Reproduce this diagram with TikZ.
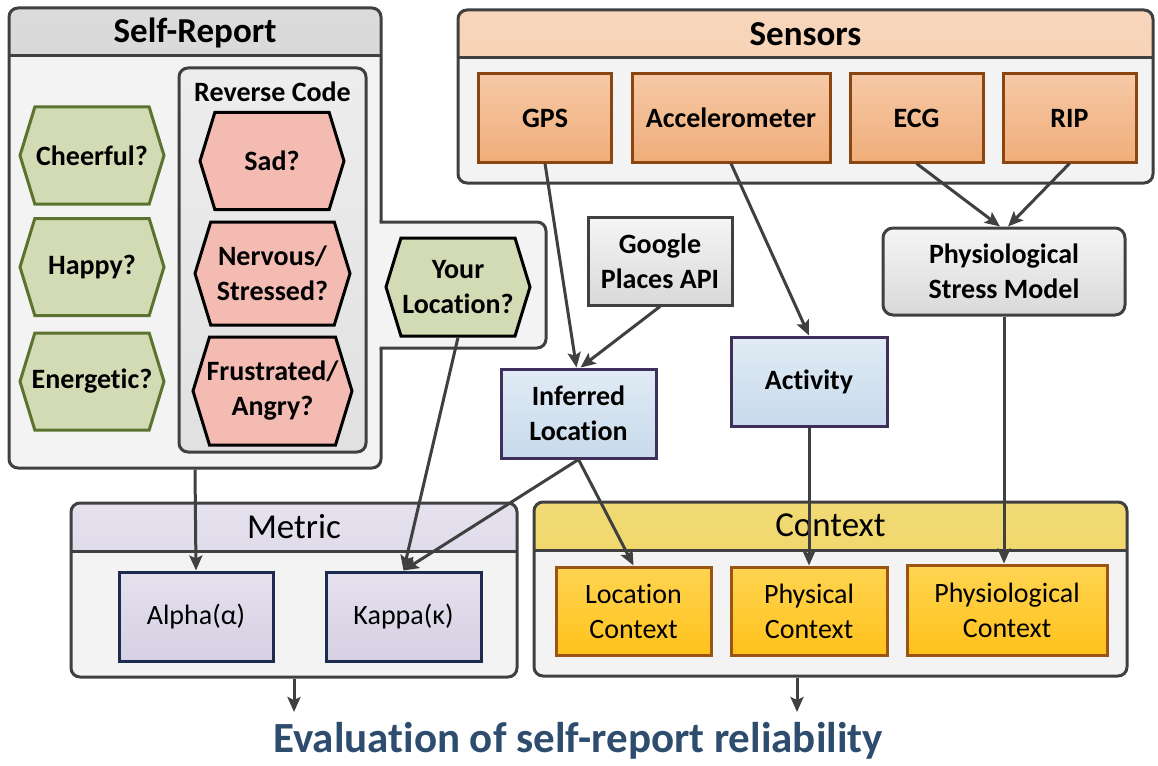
\documentclass[tikz,border=0pt]{standalone}
\usepackage{fontspec}
\setmainfont{Carlito}[Ligatures={CommonOff,ContextualOff}]
\usetikzlibrary{positioning, arrows.meta, shapes.symbols}

\definecolor{linegray}{HTML}{404040}
\definecolor{bodygray}{HTML}{F3F3F3}
\definecolor{hexgreen}{HTML}{D3DBB5}
\definecolor{olivegreen}{HTML}{5C7330}
\definecolor{hexred}{HTML}{F4BBB3}
\definecolor{sensortop}{HTML}{F6C9A6}
\definecolor{sensorbot}{HTML}{F0AD7A}
\definecolor{sensorline}{HTML}{8A4510}
\definecolor{ctxhead}{HTML}{EFD35C}
\definecolor{ctxtop}{HTML}{FFD451}
\definecolor{ctxbot}{HTML}{FFC21C}
\definecolor{ctxline}{HTML}{9A5414}
\definecolor{mettop}{HTML}{E5E1EE}
\definecolor{metbot}{HTML}{D6D0E3}
\definecolor{metline}{HTML}{1F2B4E}
\definecolor{bluetop}{HTML}{E1EBF5}
\definecolor{bluebot}{HTML}{C8DAEC}
\definecolor{blueline}{HTML}{3E2F5B}
\definecolor{graytop}{HTML}{F5F5F5}
\definecolor{graybot}{HTML}{D9D9D9}
\definecolor{evalblue}{HTML}{2E4D6E}

\newcommand{\titlefont}{\fontsize{35}{40}\selectfont}
\newcommand{\boxfont}{\fontsize{28}{35}\selectfont}

\begin{document}
\begin{tikzpicture}[x=1pt, y=-1pt,
    panel/.style={draw=linegray, line width=3pt, rounded corners=9pt, fill=bodygray, inner sep=0pt,
        path picture={
            \fill[sharp corners, #1] ([yshift=2pt]path picture bounding box.north west) rectangle ([yshift=-48pt]path picture bounding box.north east);
            \draw[sharp corners, linegray, line width=3pt] ([yshift=-48pt]path picture bounding box.north west) -- ([yshift=-48pt]path picture bounding box.north east);}},
    hexq/.style={signal, signal to=east and west, signal pointer angle=146, line width=3pt,
        fill=hexgreen, minimum width=144pt, minimum height=97pt, inner xsep=-12pt, inner ysep=0pt,
        align=center, font=\boxfont\bfseries},
    box/.style={line width=3pt, minimum width=133pt, minimum height=88pt, inner sep=0pt,
        align=center, font=\boxfont},
    sensorbox/.style={box, draw=sensorline, top color=sensortop, bottom color=sensorbot, font=\boxfont\bfseries},
    ctxbox/.style={box, draw=ctxline, top color=ctxtop, bottom color=ctxbot},
    metbox/.style={box, draw=metline, top color=mettop, bottom color=metbot},
    bluebox/.style={box, draw=blueline, top color=bluetop, bottom color=bluebot, font=\boxfont\bfseries},
    graybox/.style={box, draw=linegray, top color=graytop, bottom color=graybot, font=\boxfont\bfseries},
    ttl/.style={font=\titlefont},
    arr/.style={draw=linegray, line width=3pt, -{Stealth[length=15pt, width=13pt, inset=3pt]}}]

\useasboundingbox (0,0) rectangle (1158,765);

% panels
\node[panel={top color=black!14, bottom color=black!22}, minimum width=372pt, minimum height=460pt] (selfrep) at (195,238) {};
\fill[bodygray, rounded corners=9pt] (370,222) rectangle (546,348);
\draw[linegray, line width=3pt, rounded corners=9pt] (379.5,222) -- (546,222) -- (546,348) -- (379.5,348);
\node[draw=linegray, line width=3pt, rounded corners=9pt, top color=black!7, bottom color=black!12,
    minimum width=187pt, minimum height=384pt] (revcode) at (272.5,260) {};
\node[panel={top color=sensortop!75!white, bottom color=sensortop}, minimum width=695pt, minimum height=173pt] (sensors) at (805.5,96.5) {};
\node[panel={top color=mettop, bottom color=metbot}, minimum width=446pt, minimum height=174pt] (metric) at (294,590) {};
\node[panel={top color=ctxhead!85!white, bottom color=ctxhead}, minimum width=593pt, minimum height=174pt] (context) at (830.5,589) {};

\node[ttl, font=\titlefont\bfseries] (srtitle) at (195,33) {Self-Report};
\node[ttl, font=\titlefont\bfseries] (sensorstitle) at (805.5,34) {Sensors};
\node[ttl] (metrictitle) at (294,527) {Metric};
\node[ttl] (contexttitle) at (830.5,525) {Context};
\node[font=\boxfont\bfseries] (revtitle) at (272.5,92) {Reverse Code};

% self-report questions
\node[hexq, draw=olivegreen] (cheerful) at (92,155.5) {Cheerful?};
\node[hexq, draw=olivegreen] (happy) at (92,267) {Happy?};
\node[hexq, draw=olivegreen] (energetic) at (92,381.5) {Energetic?};
\node[hexq, draw=black, fill=hexred] (sad) at (272,161) {Sad?};
\node[hexq, draw=black, fill=hexred, minimum width=155pt, minimum height=103pt] (nervous) at (272.5,273.5) {Nervous/\\Stressed?};
\node[hexq, draw=black, fill=hexred, minimum width=159pt, minimum height=108pt] (frustrated) at (272.5,391) {Frustrated/\\Angry?};
\node[hexq, draw=black, minimum height=98pt] (yourloc) at (458,287) {Your\\Location?};

% sensors and inference
\node[sensorbox] (gps) at (545,118) {GPS};
\node[sensorbox, minimum width=198pt] (accel) at (731,118) {Accelerometer};
\node[sensorbox] (ecg) at (916.5,118) {ECG};
\node[sensorbox] (rip) at (1069.5,118) {RIP};
\node[graybox, minimum width=144pt] (places) at (660,261) {Google\\Places API};
\node[graybox, rounded corners=10pt, minimum width=242pt, minimum height=87pt] (psm) at (1004,271.5) {Physiological\\Stress Model};
\node[bluebox, minimum width=155pt, minimum height=89pt] (infloc) at (578.5,413.5) {Inferred\\Location};
\node[bluebox, minimum width=156pt, minimum height=89pt] (activity) at (809,381.5) {Activity};

% metric and context
\node[metbox, minimum width=154pt, minimum height=89pt] (alpha) at (196,616.5) {Alpha(α)};
\node[metbox, minimum width=155pt, minimum height=89pt] (kappa) at (403.5,616.5) {Kappa(κ)};
\node[ctxbox, minimum width=155pt] (locctx) at (633.5,611) {Location\\Context};
\node[ctxbox, minimum width=156pt] (physctx) at (809,611) {Physical\\Context};
\node[ctxbox, minimum width=200pt, minimum height=90pt] (physioctx) at (1007,610) {Physiological\\Context};

\node[font=\fontsize{43}{48}\selectfont\bfseries, text=evalblue] (eval) at (578,741) {Evaluation of self-report reliability};
\coordinate (evalL) at (294,712);
\coordinate (evalR) at (797,712);

% connectors
\draw[arr] (gps.south) -- ([xshift=-2pt]infloc.north);
\draw[arr] (places.south) -- ([xshift=2pt]infloc.north);
\draw[arr] (accel.south) -- (activity.north);
\draw[arr] (ecg.south) -- ([xshift=-4pt]psm.north);
\draw[arr] (rip.south) -- ([xshift=4pt]psm.north);
\draw[arr] (psm.south) -- (psm.south |- physioctx.north);
\draw[arr] (activity.south) -- (physctx.north);
\draw[arr] (infloc.south) -- (locctx.north);
\draw[arr] (infloc.south) -- (kappa.north);
\draw[arr] (yourloc.south) -- (kappa.north);
\draw[arr] (selfrep.south) -- (alpha.north);
\draw[arr] (metric.south) -- (evalL);
\draw[arr] (context.south -| evalR) -- (evalR);
\end{tikzpicture}
\end{document}
